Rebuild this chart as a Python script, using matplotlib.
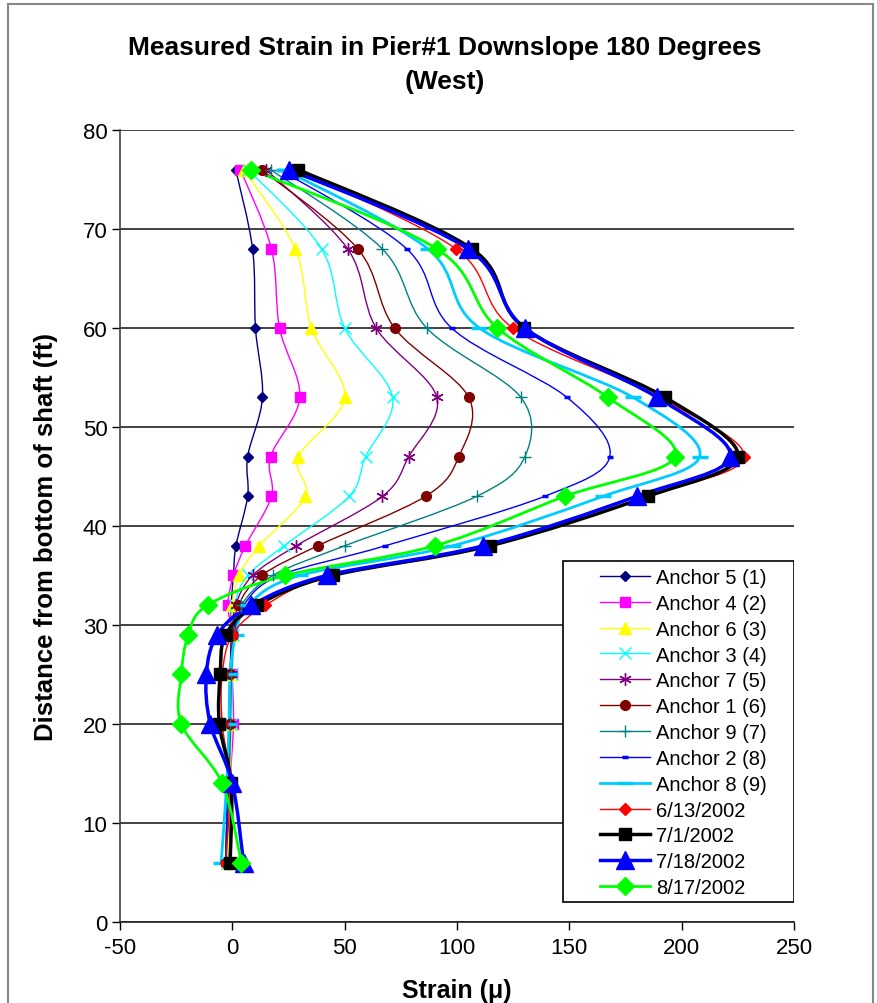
import matplotlib
matplotlib.use("Agg")
import matplotlib.pyplot as plt
from matplotlib.path import Path
from matplotlib.patches import PathPatch, Rectangle
from matplotlib.lines import Line2D
import numpy as np

plt.rcParams['font.family'] = ['Liberation Sans', 'DejaVu Sans']
plt.rcParams['axes.unicode_minus'] = False

# gauge depths (ft above bottom of shaft)
depth = [76, 68, 60, 53, 47, 43, 38, 35, 32, 29, 25, 20, 14, 6]

# strain readings (micro-strain) at each depth
anchor5 = [1.5, 9, 10.3, 13.4, 6.8, 6.8, 1.6, 0.5, -0.5, -0.5, -1, -1, -1, -2]
anchor4 = [3.6, 17.4, 21, 30, 17, 17.4, 5.8, 0.5, -2, 0, 0, 0.5, -1, -2]
anchor6 = [5, 28, 35.2, 50, 29.4, 32.5, 12, 3, 0, 0, -0.5, -0.5, -1, -2]
anchor3 = [7, 39.7, 50, 71.3, 59.3, 52, 23, 6.8, 1, 0.5, 0, -0.5, -1.5, -2.5]
anchor7 = [15, 51.3, 64, 91, 78.5, 66.8, 28.4, 9, 1.5, 0, -0.5, -1, -1.5, -3]
anchor1 = [13, 55.8, 72.2, 105.2, 100.8, 86, 38, 13, 2.7, 0.5, -1, -1, -2, -3]
anchor9 = [17, 66.7, 86.5, 128.4, 130.2, 108.8, 50, 18, 4, 1, -0.5, -1, -2, -3]
anchor2 = [21, 77.6, 97.6, 148.9, 168, 139, 68, 21, 5, 1, -1, -1.5, -2, -3]
anchor8 = [23, 87, 110, 178.3, 208, 165, 98, 30, 7, 1.5, -1, -1.5, -2.5, -5]
d0613 = [28, 99.5, 124.8, 190, 227.8, 185, 113, 44, 14.7, 0, -4.5, -4.5, -1, -3]
d0701 = [29.4, 106.6, 130, 192.6, 225, 185, 114.6, 44.6, 11, -3, -5.4, -5.8, -0.5, -1]
d0718 = [25.4, 104.8, 130.2, 189, 221.6, 180, 111.6, 42, 8.5, -6.7, -11.6, -9.8, 0, 5]
d0817 = [8.5, 91, 118, 167.2, 197, 148, 90, 23.6, -11, -19.6, -22.7, -22.7, -4.5, 4]

series = [
    (anchor5, 'Anchor 5 (1)', '#000080', 'D', 5.5, 1.0, 1.0),
    (anchor4, 'Anchor 4 (2)', '#FF00FF', 's', 7, 1.0, 1.0),
    (anchor6, 'Anchor 6 (3)', '#FFFF00', '^', 8, 1.0, 1.0),
    (anchor3, 'Anchor 3 (4)', '#00FFFF', 'x', 8, 1.0, 1.0),
    (anchor7, 'Anchor 7 (5)', '#800080', (6, 2, 0), 9, 1.0, 1.0),
    (anchor1, 'Anchor 1 (6)', '#800000', 'o', 7, 1.0, 1.0),
    (anchor9, 'Anchor 9 (7)', '#008080', '+', 9, 1.0, 1.0),
    (anchor2, 'Anchor 2 (8)', '#0000FF', '_', 5, 1.0, 2.5),
    (anchor8, 'Anchor 8 (9)', '#00CCFF', '_', 11, 2.0, 2.5),
    (d0613, '6/13/2002', '#FF0000', 'D', 6, 1.0, 1.0),
    (d0701, '7/1/2002', '#000000', 's', 8, 2.5, 1.0),
    (d0718, '7/18/2002', '#0000FF', '^', 13, 2.5, 1.0),
    (d0817, '8/17/2002', '#00FF00', 'D', 9.5, 2.0, 1.0),
]


def smooth_path(xs, ys):
    # Catmull-Rom style curve through the readings, like a smoothed spreadsheet line
    pts = np.column_stack([xs, ys]).astype(float)
    n = len(pts)
    verts = [pts[0]]
    codes = [Path.MOVETO]
    for i in range(n - 1):
        p0 = pts[max(i - 1, 0)]
        p1 = pts[i]
        p2 = pts[i + 1]
        p3 = pts[min(i + 2, n - 1)]
        verts += [p1 + (p2 - p0) / 6, p2 - (p3 - p1) / 6, p2]
        codes += [Path.CURVE4] * 3
    return Path(verts, codes)


fig = plt.figure(figsize=(8.78, 10.04), dpi=100)
ax = fig.add_axes([0.1367, 0.0807, 0.7676, 0.7888])

handles = []
for vals, name, color, mk, ms, lw, mew in series:
    ax.add_patch(PathPatch(smooth_path(vals, depth), fill=False,
                           edgecolor=color, linewidth=lw, zorder=3))
    ax.plot(vals, depth, linestyle='none', marker=mk, markersize=ms,
            color=color, markeredgewidth=mew, zorder=4)
    handles.append(Line2D([], [], color=color, linewidth=lw, marker=mk,
                          markersize=ms, markeredgewidth=mew, label=name))

ax.set_xlim(-50, 250)
ax.set_ylim(0, 80)
ax.set_xticks(np.arange(-50, 251, 50))
ax.set_yticks(np.arange(0, 81, 10))
ax.tick_params(direction='out', length=6, width=1, labelsize=16)
ax.tick_params(axis='x', pad=5)
ax.tick_params(axis='y', pad=3)
ax.yaxis.grid(True, color='#222222', linewidth=1.2)
ax.set_axisbelow(True)
for side in ('top', 'right'):
    ax.spines[side].set_visible(False)
ax.spines['left'].set_color('#444444')
ax.spines['bottom'].set_color('#222222')
ax.spines['left'].set_linewidth(1.2)
ax.spines['bottom'].set_linewidth(1.2)

ax.set_xlabel('Strain (\u03bc)', fontsize=18, fontweight='bold', labelpad=14)
ax.set_ylabel('Distance from bottom of shaft (ft)', fontsize=18.5,
              fontweight='bold')
ax.yaxis.set_label_coords(-0.092, 0.487)

fig.text(0.507, 0.952, 'Measured Strain in Pier#1 Downslope 180 Degrees',
         ha='center', va='center', fontsize=19, fontweight='bold')
fig.text(0.507, 0.918, '(West)', ha='center', va='center',
         fontsize=19, fontweight='bold')

# legend box drawn separately so the padding can be uneven
ax.add_patch(Rectangle((0.657, 0.025), 0.343, 0.431, transform=ax.transAxes,
                       facecolor='white', edgecolor='black', linewidth=1.2,
                       zorder=5))
leg = ax.legend(handles=handles, loc='upper left',
                bbox_to_anchor=(0.712, 0.447), frameon=False, fontsize=14.5,
                numpoints=1, handlelength=2.5, handletextpad=0.3,
                labelspacing=0.34, borderpad=0, borderaxespad=0)
leg.set_zorder(6)

# outer chart frame
fig.add_artist(Rectangle((0.009, -0.01), 0.985, 1.005, transform=fig.transFigure,
                         fill=False, edgecolor='#888888', linewidth=1.5))

fig.savefig('out.png', dpi=100)
